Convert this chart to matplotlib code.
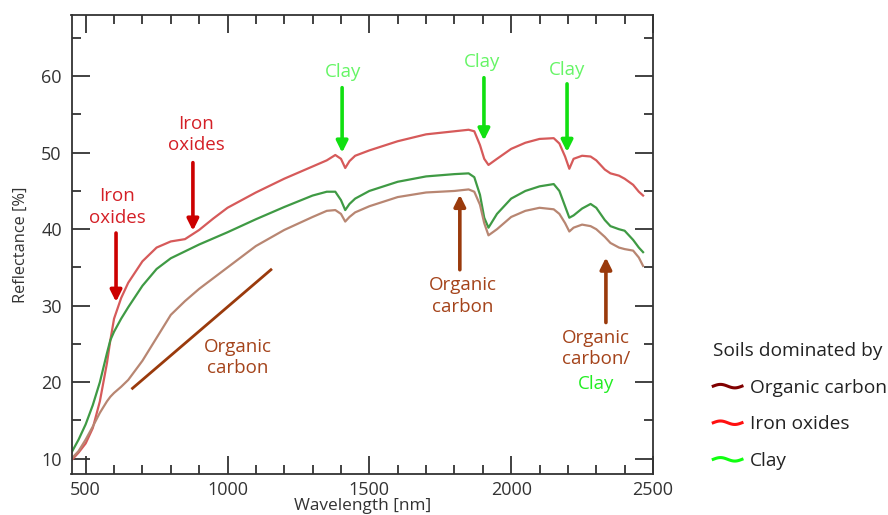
import matplotlib
matplotlib.use("Agg")
import matplotlib.pyplot as plt
import numpy as np
from matplotlib.legend_handler import HandlerBase
from matplotlib.lines import Line2D
from matplotlib.ticker import MultipleLocator

plt.rcParams['font.family'] = ['Open Sans', 'DejaVu Sans']

# wavelength grid [nm] and reflectance [%]
wavelength = [450, 475, 500, 525, 550, 575, 587, 600, 625, 650, 700, 750, 800, 850,
              900, 950, 1000, 1100, 1200, 1300, 1350, 1380, 1400, 1415, 1430, 1450,
              1500, 1600, 1700, 1800, 1850, 1870, 1890, 1905, 1920, 1950, 2000, 2050,
              2100, 2150, 2170, 2190, 2205, 2220, 2250, 2280, 2300, 2330, 2350, 2380,
              2400, 2430, 2450, 2465]
iron_oxides = [9.8, 10.8, 12.0, 14.0, 17.5, 22.5, 25.5, 28.3, 31.0, 33.0, 35.8, 37.6, 38.4, 38.7,
               39.9, 41.4, 42.8, 44.8, 46.6, 48.2, 49.0, 49.7, 49.2, 48.0, 48.9, 49.6,
               50.3, 51.5, 52.4, 52.8, 53.0, 52.8, 51.0, 49.2, 48.4, 49.2, 50.5, 51.3,
               51.8, 51.9, 51.2, 49.5, 47.9, 49.2, 49.6, 49.5, 49.0, 47.8, 47.3, 47.0,
               46.6, 45.8, 44.9, 44.4]
clay = [10.8, 12.5, 14.5, 17.0, 20.0, 23.8, 25.5, 26.6, 28.3, 29.8, 32.6, 34.8, 36.2, 37.1,
        38.0, 38.8, 39.6, 41.3, 42.9, 44.4, 44.9, 44.9, 43.8, 42.5, 43.3, 44.0,
        45.0, 46.2, 46.9, 47.2, 47.3, 46.8, 44.5, 41.5, 40.2, 42.0, 44.0, 45.0,
        45.6, 45.9, 45.0, 43.0, 41.5, 41.8, 42.7, 43.3, 42.8, 41.2, 40.4, 40.0,
        39.8, 38.6, 37.6, 37.0]
organic_carbon = [10.0, 11.0, 12.5, 14.2, 16.0, 17.5, 18.1, 18.6, 19.4, 20.3, 22.8, 25.8, 28.8, 30.6,
                  32.2, 33.6, 35.0, 37.8, 39.9, 41.6, 42.4, 42.5, 42.0, 41.0, 41.6, 42.2,
                  43.0, 44.2, 44.8, 45.0, 45.2, 44.9, 43.2, 40.8, 39.2, 40.0, 41.6, 42.4,
                  42.8, 42.6, 42.0, 40.8, 39.7, 40.2, 40.6, 40.4, 40.0, 39.0, 38.2, 37.6,
                  37.4, 37.2, 36.3, 35.2]

legend_labels = ["Organic carbon", "Iron oxides", "Clay"]

c_red_line = "#d65a5a"
c_green_line = "#3f9a44"
c_brown_line = "#b88672"
c_red = "#d41f26"
c_red_arrow = "#cc0000"
c_green_txt = "#66f566"
c_green_arrow = "#11e011"
c_brown = "#a4431a"
c_brown_arrow = "#9a3a0c"
c_axis = "#333333"
fs = 13.5


class WaveHandler(HandlerBase):
    def create_artists(self, legend, orig_handle, xdescent, ydescent, width, height, fontsize, trans):
        t = np.linspace(0, 1, 40)
        xs = -xdescent + t * width
        ys = -ydescent + height / 2 + 0.13 * height * np.sin(2 * np.pi * t)
        ln = Line2D(xs, ys, color=orig_handle.get_color(), lw=2.2, transform=trans)
        return [ln]


fig = plt.figure(figsize=(8.88, 5.15), dpi=100)
ax = fig.add_axes([71.5 / 888, 1 - 474 / 515, (653 - 71.5) / 888, 459 / 515])

ax.plot(wavelength, iron_oxides, color=c_red_line, lw=1.6)
ax.plot(wavelength, clay, color=c_green_line, lw=1.6)
ax.plot(wavelength, organic_carbon, color=c_brown_line, lw=1.6)

ax.set_xlim(450, 2500)
ax.set_ylim(8, 68)
ax.xaxis.set_major_locator(MultipleLocator(500))
ax.xaxis.set_minor_locator(MultipleLocator(100))
ax.yaxis.set_major_locator(MultipleLocator(10))
ax.yaxis.set_minor_locator(MultipleLocator(5))
ax.set_yticks([10, 20, 30, 40, 50, 60])
ax.tick_params(which='both', direction='in', top=True, right=True, color=c_axis, width=1.3,
               labelsize=13, labelcolor=c_axis)
ax.tick_params(which='major', length=13)
ax.tick_params(which='minor', length=6.5)
ax.tick_params(axis='y', pad=7)
ax.tick_params(axis='x', pad=5)
for s in ax.spines.values():
    s.set_color(c_axis)
    s.set_linewidth(1.3)
ax.set_xlabel("Wavelength [nm]", fontsize=12.4, color=c_axis, labelpad=-1)
ax.set_ylabel("Reflectance [%]", fontsize=11.8, color=c_axis, labelpad=9)


def arrow(x, y0, y1, color):
    ax.annotate("", xy=(x, y1), xytext=(x, y0),
                arrowprops=dict(arrowstyle='-|>', color=color, lw=2.6, mutation_scale=17,
                                shrinkA=0, shrinkB=0))


# iron oxides
arrow(607, 39.5, 30.5, c_red_arrow)
ax.text(610, 42.9, "Iron\noxides", color=c_red, fontsize=fs, ha='center', va='center', linespacing=1.25)
arrow(878, 48.7, 39.8, c_red_arrow)
ax.text(889, 52.4, "Iron\noxides", color=c_red, fontsize=fs, ha='center', va='center', linespacing=1.25)

# clay
for cx, y0, y1, tx, ty in [(1404, 58.5, 50.0, 1407, 60.5),
                           (1904, 59.8, 51.6, 1899, 61.8),
                           (2197, 59.0, 50.1, 2197, 60.8)]:
    arrow(cx, y0, y1, c_green_arrow)
    ax.text(tx, ty, "Clay", color=c_green_txt, fontsize=fs, ha='center', va='center')

# organic carbon
arrow(1819, 34.7, 44.5, c_brown_arrow)
ax.text(1830, 31.3, "Organic\ncarbon", color=c_brown, fontsize=fs, ha='center', va='center', linespacing=1.25)
arrow(2334, 27.8, 36.3, c_brown_arrow)
ax.text(2299, 24.4, "Organic\ncarbon/", color=c_brown, fontsize=fs, ha='center', va='center', linespacing=1.25)
ax.text(2299, 19.7, "Clay", color="#22ee22", fontsize=fs, ha='center', va='center')
ax.plot([665, 1153], [19.2, 34.7], color=c_brown_arrow, lw=2)
ax.text(1037, 23.2, "Organic\ncarbon", color=c_brown, fontsize=fs, ha='center', va='center', linespacing=1.25)

handles = [Line2D([], [], color=c) for c in ["#800000", "#ff1010", "#10ff10"]]
leg = fig.legend(handles, legend_labels, title="Soils dominated by", loc='upper left',
                 bbox_to_anchor=(696 / 888, 1 - 325 / 515), frameon=False, fontsize=13.8,
                 title_fontsize=13.8, alignment='left', handlelength=1.5, handletextpad=0.4,
                 labelspacing=0.97, handler_map={Line2D: WaveHandler()})
for t in leg.get_texts():
    t.set_color("#222222")
leg.get_title().set_color("#222222")

fig.savefig("out.png", dpi=100)
